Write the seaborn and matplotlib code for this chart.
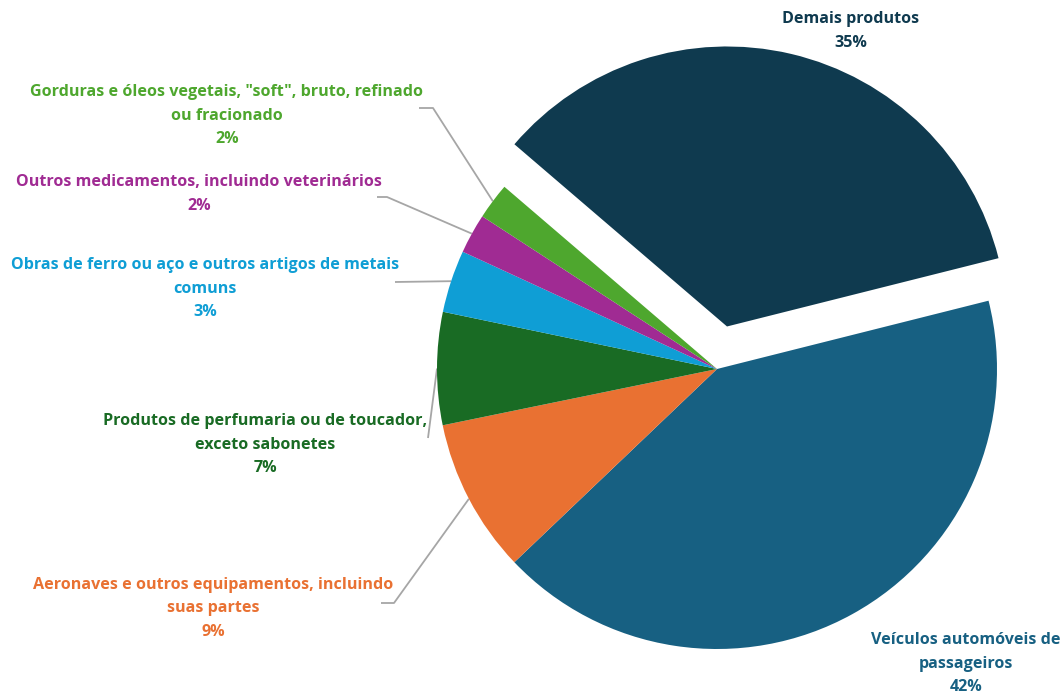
import numpy as np
import pandas as pd
import matplotlib
matplotlib.use("Agg")
import matplotlib.pyplot as plt
import seaborn as sns

# ---- data ----
categories = [
    "Demais produtos",
    "Veículos automóveis de\npassageiros",
    "Aeronaves e outros equipamentos, incluindo\nsuas partes",
    "Produtos de perfumaria ou de toucador,\nexceto sabonetes",
    "Obras de ferro ou aço e outros artigos de metais\ncomuns",
    "Outros medicamentos, incluindo veterinários",
    "Gorduras e óleos vegetais, \"soft\", bruto, refinado\nou fracionado",
]
shares = [34.8, 41.8, 8.9, 6.5, 3.6, 2.3, 2.1]
pct_labels = ["35%", "42%", "9%", "7%", "3%", "2%", "2%"]
colors = ["#0f3a4f", "#176082", "#e97132", "#196b24", "#0f9ed5", "#a02b93", "#4ea72e"]

df = pd.DataFrame({"categoria": categories, "share": shares, "pct": pct_labels, "cor": colors})

sns.set_theme(style="white")
plt.rcParams["font.family"] = ["Open Sans", "DejaVu Sans"]

W, H = 1064, 694
fig = plt.figure(figsize=(W / 100, H / 100), dpi=100)
ax = fig.add_axes([0, 0, 1, 1])
ax.set_xlim(0, W)
ax.set_ylim(H, 0)
ax.set_aspect("equal")
ax.axis("off")

cx, cy, R = 717, 369, 280
start = 139.4
explode_frac = [0.156, 0, 0, 0, 0, 0, 0]

ax2 = fig.add_axes([0, 0, 1, 1])
wedges, _ = ax2.pie(df["share"], colors=df["cor"], startangle=start, counterclock=False,
                    center=(cx, H - cy), radius=R, explode=[e * R for e in explode_frac],
                    wedgeprops=dict(linewidth=0), frame=True)
ax2.set_xlim(0, W)
ax2.set_ylim(0, H)
ax2.set_aspect("equal")
ax2.axis("off")

label_layout = {
    0: dict(x=851, y=19),
    1: dict(x=966, y=640),
    2: dict(x=213, y=585, elbow=[(381, 603), (394, 603)]),
    3: dict(x=265, y=421, elbow=[(428, 438)]),
    4: dict(x=205, y=265, elbow=[(395, 282)]),
    5: dict(x=199, y=182, elbow=[(377, 197), (387, 197)]),
    6: dict(x=227, y=92, elbow=[(419, 108), (433, 108)]),
}

fs = 11.65
lh = 23.5
for i, row in df.iterrows():
    lay = label_layout[i]
    lines = row["categoria"].split("\n") + [row["pct"]]
    for k, line in enumerate(lines):
        ax.text(lay["x"], lay["y"] + k * lh, line, ha="center", va="center",
                fontsize=fs, fontweight="bold", color=row["cor"])
    if "elbow" in lay:
        w = wedges[i]
        mid = np.deg2rad((w.theta1 + w.theta2) / 2)
        ex = cx + R * np.cos(mid)
        ey = cy - R * np.sin(mid)
        pts = lay["elbow"] + [(ex, ey)]
        ax.plot([p[0] for p in pts], [p[1] for p in pts], color="#a6a6a6", lw=1.3,
                solid_capstyle="butt")

fig.savefig("out.png", dpi=100, facecolor="white")
